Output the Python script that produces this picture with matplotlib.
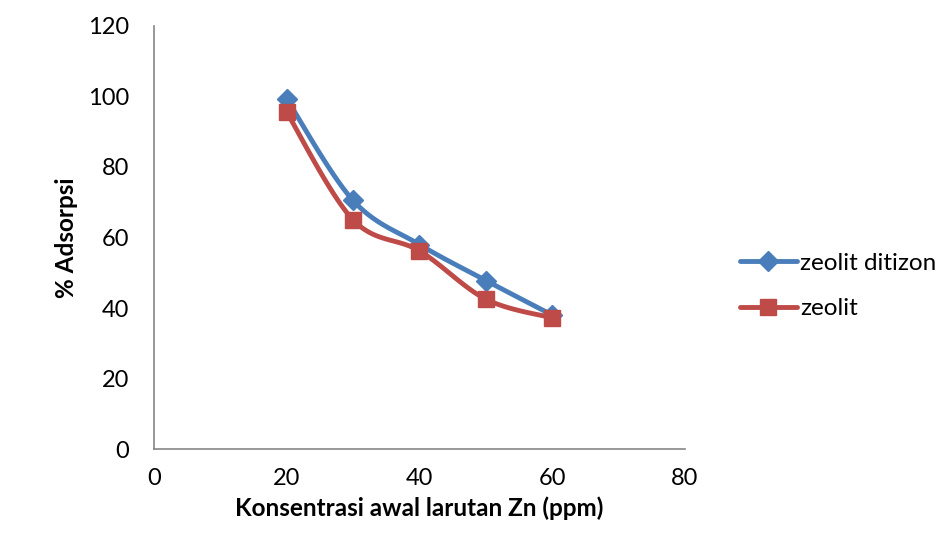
import numpy as np
import matplotlib.pyplot as plt

# data
konsentrasi = [20, 30, 40, 50, 60]
ditizon = [99.3, 70.5, 58.0, 47.8, 38.0]
zeolit = [95.5, 65.0, 56.2, 42.5, 37.2]
labels = ["zeolit ditizon", "zeolit"]

plt.rcParams['font.family'] = ['Lato', 'DejaVu Sans']


def smooth(x, y, n=30):
    # Excel-like smoothed line (Catmull-Rom Bezier through the points)
    x = np.asarray(x, float)
    y = np.asarray(y, float)
    px = np.concatenate([[x[0]], x, [x[-1]]])
    py = np.concatenate([[y[0]], y, [y[-1]]])
    xs, ys = [], []
    t = np.linspace(0, 1, n)
    for i in range(1, len(px) - 2):
        p0 = np.array([px[i], py[i]])
        p3 = np.array([px[i + 1], py[i + 1]])
        p1 = p0 + (np.array([px[i + 1], py[i + 1]]) - np.array([px[i - 1], py[i - 1]])) / 6
        p2 = p3 - (np.array([px[i + 2], py[i + 2]]) - np.array([px[i], py[i]])) / 6
        b = ((1 - t) ** 3)[:, None] * p0 + (3 * (1 - t) ** 2 * t)[:, None] * p1 \
            + (3 * (1 - t) * t ** 2)[:, None] * p2 + (t ** 3)[:, None] * p3
        xs.extend(b[:, 0])
        ys.extend(b[:, 1])
    return xs, ys


fig = plt.figure(figsize=(9.43, 5.38), dpi=100)
ax = fig.add_axes([0.1633, 0.1654, 0.5631, 0.7863])

blue = '#4A7EBB'
red = '#BE4B48'

sx, sy = smooth(konsentrasi, ditizon)
ax.plot(sx, sy, color=blue, lw=3.5, solid_capstyle='round', zorder=3)
ax.plot(konsentrasi, ditizon, ls='none', marker='D', ms=10, color=blue, zorder=4)
ax.plot([], [], color=blue, lw=3.5, marker='D', ms=10, label=labels[0],
        solid_capstyle='round')

sx, sy = smooth(konsentrasi, zeolit)
ax.plot(sx, sy, color=red, lw=3.5, solid_capstyle='round', zorder=5)
ax.plot(konsentrasi, zeolit, ls='none', marker='s', ms=12, color=red, zorder=6)
ax.plot([], [], color=red, lw=3.5, marker='s', ms=12, label=labels[1],
        solid_capstyle='round')

ax.set_xlim(0, 80)
ax.set_ylim(0, 120)
ax.set_xticks(range(0, 81, 20))
ax.set_yticks(range(0, 121, 20))
ax.tick_params(length=0, labelsize=17, colors='#000000')
ax.tick_params(axis='x', pad=14)
ax.tick_params(axis='y', pad=18)
for s in ['top', 'right']:
    ax.spines[s].set_visible(False)
for s in ['left', 'bottom']:
    ax.spines[s].set_color('#868686')
    ax.spines[s].set_linewidth(1.2)

ax.set_xlabel("Konsentrasi awal larutan Zn (ppm)", fontsize=17.5, fontweight='bold', labelpad=5)
ax.set_ylabel("% Adsorpsi", fontsize=17.5, fontweight='bold', labelpad=7)

ax.legend(loc='center left', bbox_to_anchor=(1.085, 0.385), frameon=False, fontsize=17.5,
          handlelength=2.35, handletextpad=0.12, labelspacing=1.0, borderaxespad=0)

fig.savefig('out.png', dpi=100)
